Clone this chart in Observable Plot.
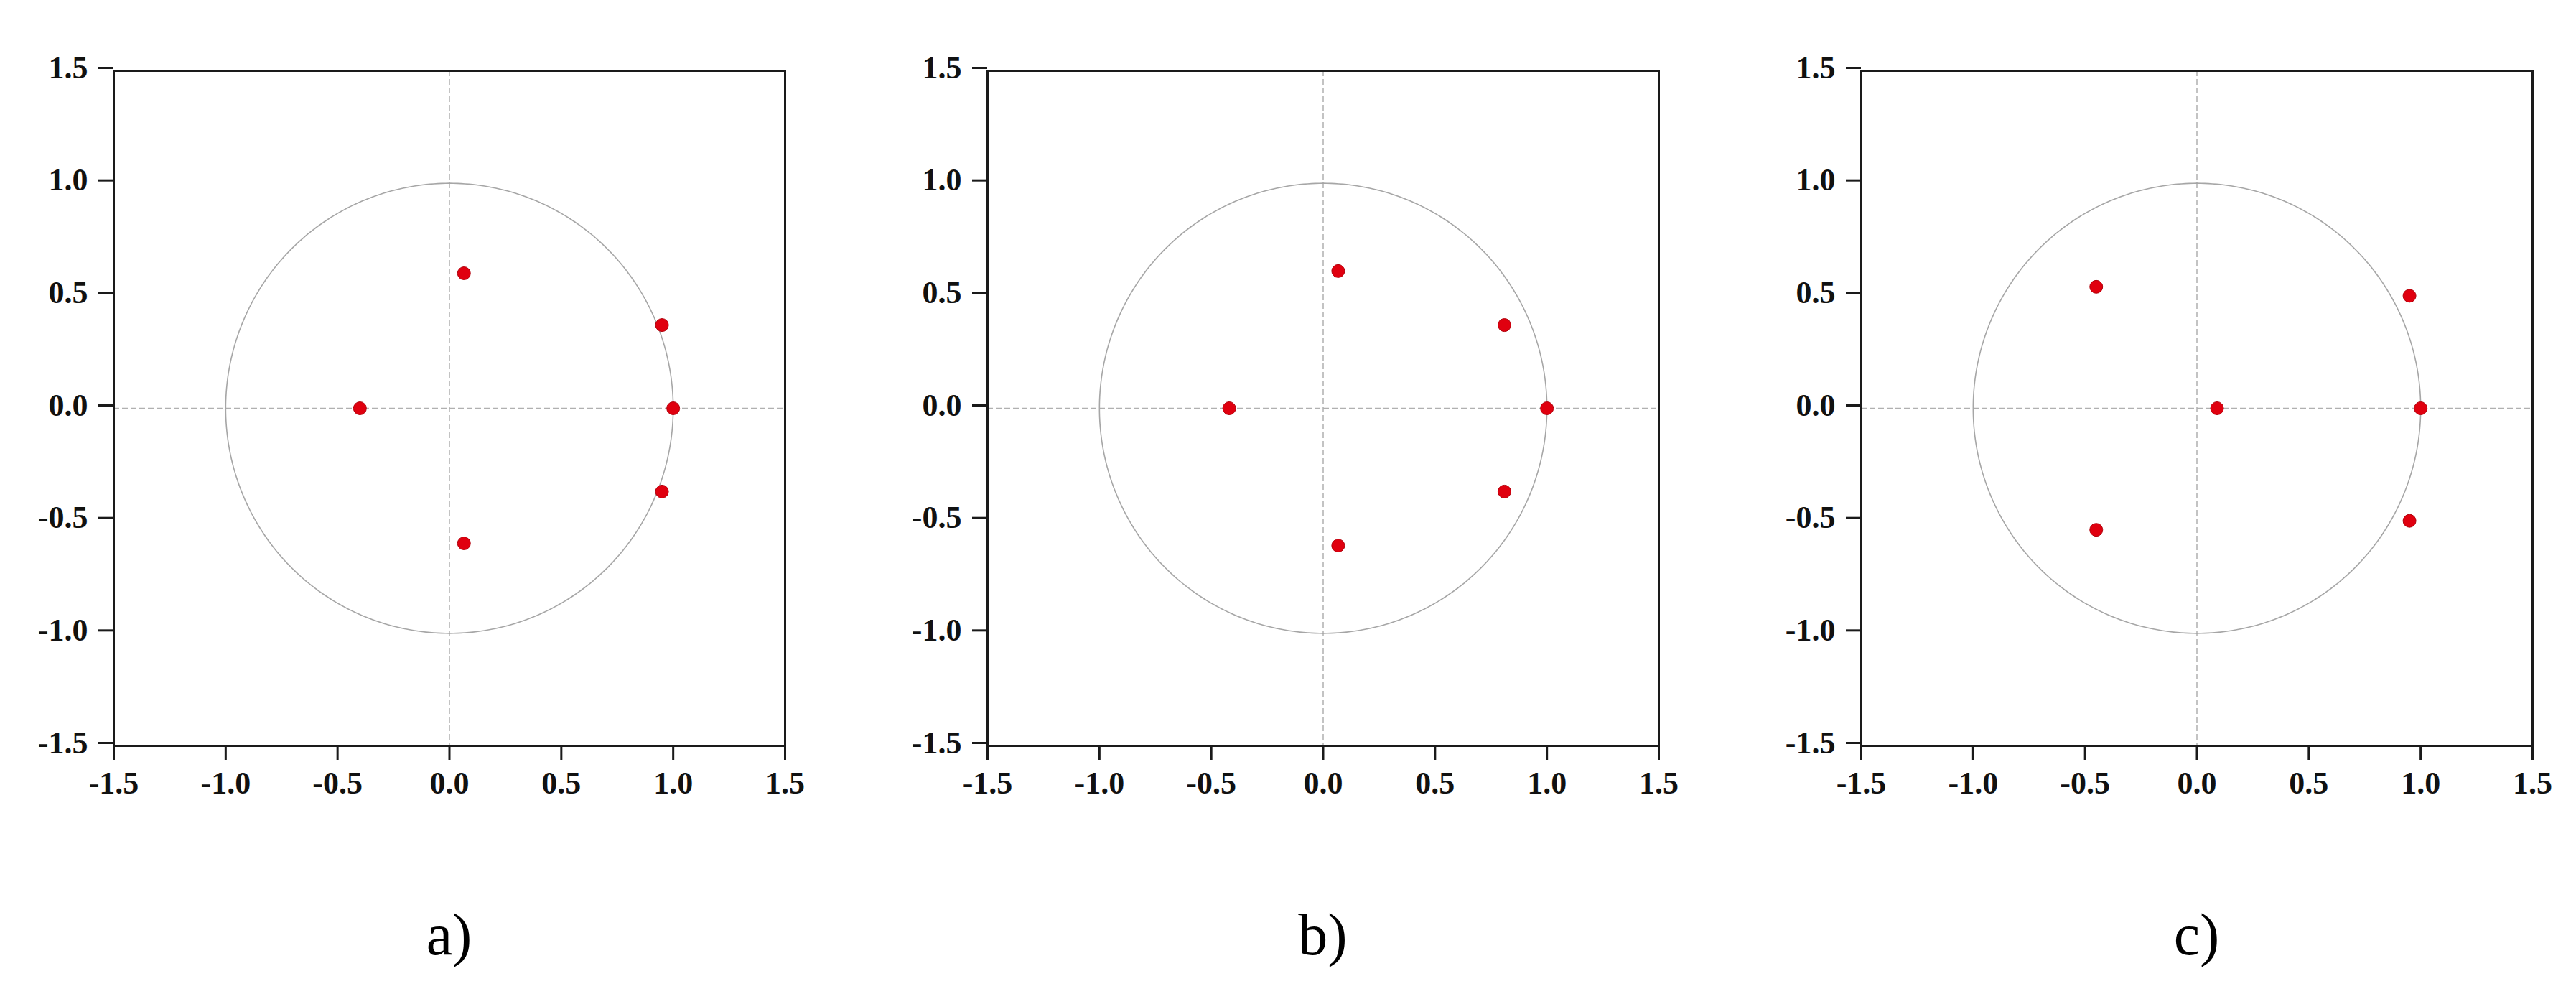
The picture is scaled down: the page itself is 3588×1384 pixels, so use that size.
<!DOCTYPE html>
<html>
<head>
<meta charset="utf-8">
<script src="https://cdn.jsdelivr.net/npm/d3@7"></script>
<script src="https://cdn.jsdelivr.net/npm/@observablehq/plot@0.6"></script>
<style>
  html, body { margin: 0; padding: 0; background: #fff; }
  #root { position: relative; width: 3588px; height: 1384px; background: #fff; overflow: hidden; }
  .panel { position: absolute; top: 0; }
  .cap { position: absolute; top: 1261px; width: 300px; margin-left: -150px; text-align: center;
         font-family: "Liberation Serif", "Times New Roman", serif; font-size: 82px; line-height: 82px; color: #000; }
</style>
</head>
<body>
<div id="root"></div>
<script>
// Axis tick values (both axes)
const tickValues = [-1.5, -1.0, -0.5, 0.0, 0.5, 1.0, 1.5];

// Panel captions
const captions = ["a)", "b)", "c)"];

const aReal = [-0.40, 0.065, 0.065, 0.95, 0.95, 1.00];
const aImag = [ 0.00, 0.60, -0.60, 0.37, -0.37, 0.00];

const bReal = [-0.42, 0.067, 0.067, 0.81, 0.81, 1.00];
const bImag = [ 0.00, 0.61, -0.61, 0.37, -0.37, 0.00];

const cReal = [-0.45, -0.45, 0.09, 0.95, 0.95, 1.00];
const cImag = [ 0.54, -0.54, 0.00, 0.50, -0.50, 0.00];

// Unit circle reference (geometry, not data)
const unitCircle = d3.range(0, 361).map(deg => ({
  x: Math.cos(deg * Math.PI / 180),
  y: Math.sin(deg * Math.PI / 180)
}));

const fmt = d => d.toFixed(1);

function panel(xs, ys) {
  const pts = xs.map((x, i) => ({x, y: ys[i]}));
  return Plot.plot({
    width: 1123,
    height: 1138,
    marginLeft: 158,
    marginTop: 98,
    marginRight: 30,
    marginBottom: 100,
    x: {domain: [-1.5, 1.5], label: null},
    y: {domain: [-1.5, 1.5], label: null},
    style: {
      fontFamily: "'Liberation Serif', 'Times New Roman', serif",
      fontSize: "44px",
      fontWeight: "bold",
      color: "#111",
      background: "transparent"
    },
    marks: [
      Plot.ruleX([0], {stroke: "#b0b0b0", strokeWidth: 1.5, strokeDasharray: "8,4"}),
      Plot.ruleY([0], {stroke: "#b0b0b0", strokeWidth: 1.5, strokeDasharray: "8,4"}),
      Plot.line(unitCircle, {x: "x", y: "y", stroke: "#a6a6a6", strokeWidth: 1.6}),
      Plot.dot(pts, {x: "x", y: "y", r: 9, fill: "#e0000f", stroke: "#b0000a", strokeWidth: 1}),
      Plot.frame({stroke: "#1a1a1a", strokeWidth: 3}),
      Plot.axisX({ticks: tickValues, tickFormat: fmt, tickSize: 20, tickPadding: 15, label: null,
                  stroke: "#1a1a1a", strokeWidth: 3, fill: "#111", fontWeight: "bold"}),
      Plot.axisY({ticks: tickValues, tickFormat: fmt, tickSize: 21, tickPadding: 15, dy: -4, label: null,
                  stroke: "#1a1a1a", strokeWidth: 3, fill: "#111", fontWeight: "bold"})
    ]
  });
}

const root = document.getElementById("root");
const data = [[aReal, aImag], [bReal, bImag], [cReal, cImag]];
const plotLefts = [158, 1375, 2592];   // left edge of each frame on the page
const plotWidth = 935;

data.forEach(([xs, ys], i) => {
  const div = document.createElement("div");
  div.className = "panel";
  div.style.left = (plotLefts[i] - 158) + "px";
  div.appendChild(panel(xs, ys));
  root.appendChild(div);

  const cap = document.createElement("div");
  cap.className = "cap";
  cap.style.left = (plotLefts[i] + plotWidth / 2) + "px";
  cap.textContent = captions[i];
  root.appendChild(cap);
});
</script>
</body>
</html>
